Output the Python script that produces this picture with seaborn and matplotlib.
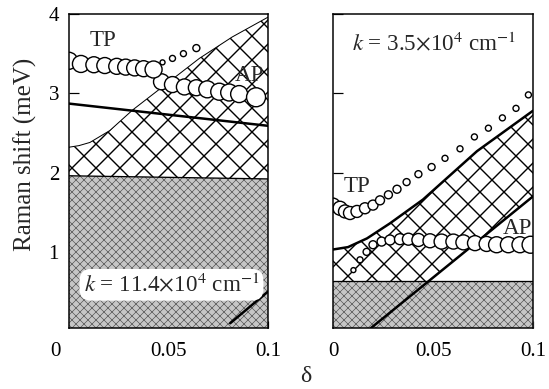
import numpy as np
import matplotlib
matplotlib.use("Agg")
import matplotlib.pyplot as plt
import matplotlib.transforms as mtransforms
import seaborn as sns

# ---------------- data ----------------
# panel (a): k = 11.4e4 cm^-1
tp_a_x = [0.0, 0.006, 0.0125, 0.018, 0.024, 0.0285, 0.033, 0.0375, 0.0425]
tp_a_y = [3.41, 3.37, 3.36, 3.35, 3.34, 3.33, 3.32, 3.31, 3.30]
tp_a_d = [17, 17, 16, 16, 16, 16, 16, 16, 17]

tp_a_weak_x = [0.047, 0.052, 0.0575, 0.064]
tp_a_weak_y = [3.39, 3.44, 3.50, 3.57]
tp_a_weak_d = [5, 6, 6, 7]

ap_a_x = [0.0465, 0.052, 0.058, 0.064, 0.0695, 0.0755, 0.0805, 0.0855, 0.094]
ap_a_y = [3.145, 3.11, 3.08, 3.07, 3.05, 3.02, 3.01, 2.99, 2.95]
ap_a_d = [16, 16, 16, 16, 17, 17, 17, 17, 19]

band_a_x = [0.0, 0.005, 0.0105, 0.0205, 0.032, 0.049, 0.0655, 0.082, 0.1]
band_a_y = [2.32, 2.34, 2.38, 2.53, 2.79, 3.12, 3.44, 3.71, 3.96]

gray_a_x = [0.0, 0.1]
gray_a_y = [1.96, 1.92]

line_a_x = [0.0, 0.1]
line_a_y = [2.87, 2.59]

low_a_x = [0.081, 0.1]
low_a_y = [0.10, 0.50]

# panel (b): k = 3.5e4 cm^-1
tp_b_x = [0.0, 0.0035, 0.006, 0.0085, 0.012, 0.016, 0.020, 0.0235, 0.0277, 0.032,
          0.0368, 0.0427, 0.0493, 0.056, 0.0635, 0.0707, 0.0777, 0.0847, 0.0915, 0.0977]
tp_b_y = [1.59, 1.55, 1.51, 1.49, 1.51, 1.55, 1.59, 1.65, 1.72, 1.79,
          1.88, 1.98, 2.07, 2.18, 2.30, 2.45, 2.56, 2.69, 2.81, 2.98]
tp_b_d = [14, 14, 13, 13, 12, 11, 10, 9, 8, 8,
          7, 7, 7, 6, 6, 6, 6, 6, 6, 6]

ap_b_x = [0.0102, 0.0135, 0.0168, 0.020, 0.0243, 0.0285, 0.0335, 0.0377, 0.0427, 0.0485,
          0.0543, 0.0602, 0.0652, 0.071, 0.0768, 0.0818, 0.0877, 0.0935, 0.0988]
ap_b_y = [0.77, 0.90, 1.00, 1.09, 1.13, 1.15, 1.16, 1.16, 1.15, 1.14,
          1.13, 1.13, 1.12, 1.11, 1.10, 1.09, 1.09, 1.09, 1.09]
ap_b_d = [5, 6, 7, 8, 9, 10, 11, 12, 13, 14,
          15, 15, 15, 15, 15, 16, 16, 16, 17]

band_b_x = [0.0, 0.0075, 0.017, 0.0285, 0.045, 0.072, 0.1]
band_b_y = [1.03, 1.06, 1.17, 1.36, 1.66, 2.27, 2.78]

low_b_x = [0.019, 0.1]
low_b_y = [0.04, 1.70]

gray_b_x = [0.0, 0.1]
gray_b_y = [0.63, 0.63]

x_ticks = [0, 0.05, 0.1]
x_ticklabels = ["0", "0.05", "0.1"]
y_ticks = [1, 2, 3, 4]
y_ticklabels = ["1", "2", "3", "4"]

# ---------------- style ----------------
sns.set_style("ticks")
plt.rcParams["font.family"] = ["Liberation Serif", "DejaVu Serif"]
plt.rcParams["mathtext.fontset"] = "stix"
plt.rcParams["hatch.linewidth"] = 1.4

W, H = 549, 389
fig = plt.figure(figsize=(W / 72, H / 72), dpi=72)
ax1 = fig.add_axes([69 / W, 1 - 328 / H, 199 / W, 314 / H])
ax2 = fig.add_axes([333 / W, 1 - 328 / H, 200 / W, 314 / H])

YMIN, YMAX = 0.04, 4.0
GRAY_FACE, GRAY_HATCH = "#c6c6c6", "#4a4a4a"


def hatch_fill(ax, x, y1, y2, face, edge, hatch, hlw, z):
    poly = ax.fill_between(x, y1, y2, facecolor=face, edgecolor=edge,
                           hatch=hatch, linewidth=0, zorder=z)
    try:
        poly.set_hatch_linewidth(hlw)
    except AttributeError:
        pass
    return poly


def circles(ax, x, y, d, z):
    sns.scatterplot(x=x, y=y, s=np.square(d), ax=ax, color="white",
                    edgecolor="black", linewidth=1.4, legend=False, zorder=z)


# ----- panel (a) -----
hatch_fill(ax1, band_a_x, 0, band_a_y, "white", "black", "x", 1.4, 1)
sns.lineplot(x=band_a_x, y=band_a_y, ax=ax1, color="black", lw=1.0, zorder=2)
hatch_fill(ax1, gray_a_x, 0, gray_a_y, GRAY_FACE, GRAY_HATCH, "xxx", 0.6, 2)
sns.lineplot(x=gray_a_x, y=gray_a_y, ax=ax1, color="black", lw=1.3, zorder=3)
sns.lineplot(x=line_a_x, y=line_a_y, ax=ax1, color="black", lw=2.5, zorder=3)
sns.lineplot(x=low_a_x, y=low_a_y, ax=ax1, color="black", lw=2.5, zorder=3)

circles(ax1, tp_a_weak_x, tp_a_weak_y, tp_a_weak_d, 4)
circles(ax1, ap_a_x, ap_a_y, ap_a_d, 5)
circles(ax1, tp_a_x, tp_a_y, tp_a_d, 6)

ax1.text(0.017, 3.67, "TP", fontsize=23, ha="center", va="center", zorder=7)
ax1.text(0.0905, 3.22, "AP", fontsize=23, ha="center", va="center", zorder=7)
ax1.text(0.0515, 0.585, r"$k$ = 11.4$\times$10$^4$ cm$^{-1}$", fontsize=23,
         ha="center", va="center", zorder=7,
         bbox=dict(boxstyle="round,pad=0.18,rounding_size=0.5", fc="white", ec="none"))

# ----- panel (b) -----
hatch_fill(ax2, band_b_x, 0, band_b_y, "white", "black", "x", 1.4, 1)
ax2.fill_between(low_b_x, 0, low_b_y, facecolor="white", linewidth=0, zorder=1.5)
hatch_fill(ax2, gray_b_x, 0, gray_b_y, GRAY_FACE, GRAY_HATCH, "xxx", 0.6, 2)
sns.lineplot(x=gray_b_x, y=gray_b_y, ax=ax2, color="black", lw=1.3, zorder=3)
sns.lineplot(x=band_b_x, y=band_b_y, ax=ax2, color="black", lw=2.5, zorder=3)
sns.lineplot(x=low_b_x, y=low_b_y, ax=ax2, color="black", lw=2.5, zorder=3)

circles(ax2, tp_b_x, tp_b_y, tp_b_d, 5)
circles(ax2, ap_b_x, ap_b_y, ap_b_d, 6)

ax2.text(0.012, 1.83, "TP", fontsize=23, ha="center", va="center", zorder=7)
ax2.text(0.092, 1.29, "AP", fontsize=23, ha="center", va="center", zorder=7)
ax2.text(0.0505, 3.63, r"$k$ = 3.5$\times$10$^4$ cm$^{-1}$", fontsize=23,
         ha="center", va="center", zorder=7)

# ----- axes -----
for ax in (ax1, ax2):
    ax.set_xlim(0, 0.1)
    ax.set_ylim(YMIN, YMAX)
    ax.set_xticks(x_ticks, labels=x_ticklabels)
    ax.set_xlabel("")
    ax.set_ylabel("")
    for s in ax.spines.values():
        s.set_linewidth(1.5)
        s.set_color("black")
        s.set_zorder(8)
    ax.tick_params(axis="x", direction="in", length=7, width=1.2, pad=14,
                   labelsize=21, colors="black")
    ax.tick_params(axis="y", direction="in", length=10, width=1.2, pad=10,
                   labelsize=21, colors="black")

ax1.set_yticks(y_ticks, labels=y_ticklabels)
ax2.set_yticks(y_ticks, labels=[""] * len(y_ticks))

# the "0" of the left panel sits a little left of its tick
lab0 = ax1.xaxis.get_major_ticks()[0].label1
lab0.set_transform(lab0.get_transform() +
                   mtransforms.ScaledTranslation(-14 / 72, 0, fig.dpi_scale_trans))

fig.text(25 / W, 1 - 154 / H, "Raman shift (meV)", rotation=90, fontsize=25,
         ha="center", va="center")
fig.text(306 / W, 1 - 376 / H, "δ", fontsize=24, ha="center", va="center")

fig.savefig("out.png", dpi=72)
